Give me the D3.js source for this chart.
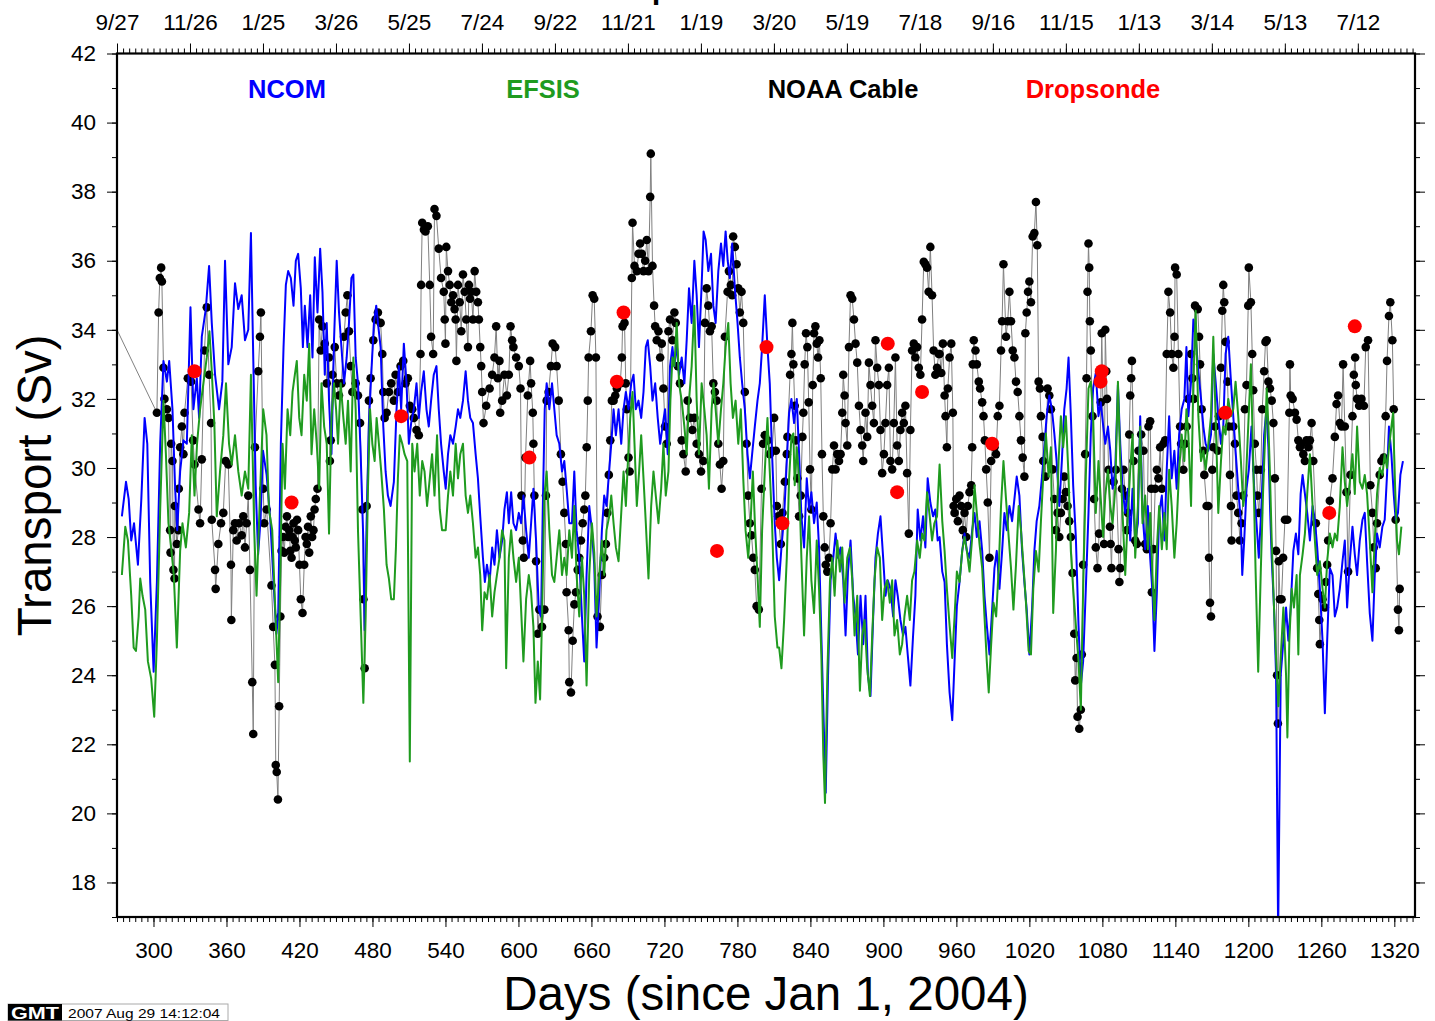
<!DOCTYPE html>
<html>
<head>
<meta charset="utf-8">
<script src="https://cdn.jsdelivr.net/npm/d3@7"></script>
<style>
  html, body { margin: 0; padding: 0; background: #fff; }
  svg { display: block; font-family: "Liberation Sans", Arial, Helvetica, sans-serif; }
</style>
</head>
<body>
<svg id="chart" width="1435" height="1021"></svg>
<script>
// Transport series, [day since 1 Jan 2004, transport in Sv]
const ncom = [
[274,28.6],[277.4,29.6],[279.6,29.1],[281.7,27.9],[284,28.4],[287.2,27.2],[290,29.1],[292.7,31.45],[294.9,30.7],[297.3,26.7],[300.1,24.1],[302.8,26.7],[305.5,30.7],[308.2,33.1],[311,32.5],[312.9,33.1],[315.6,31.7],[317.8,29.4],[319.5,28.2],[321.9,29.9],[324.6,30.8],[327.4,30.7],[330.4,34.65],[332.8,31.7],[335.6,32.6],[337.5,31.45],[339.7,33.8],[343,34.6],[345.7,35.85],[347.9,34.2],[350.6,32.7],[353.9,31.7],[356.6,32.5],[358.8,36],[361.5,33],[364.3,33.5],[367,35.35],[369.7,34.6],[372.5,35],[375.2,33.7],[377.9,34],[380.1,36.8],[382,33.2],[384,29.5],[386,27.5],[388,28.5],[390,30.5],[393,29.8],[396,28.5],[399,26.5],[401,25.2],[402.5,25.7],
[404.7,30.7],[406.9,33.5],[408.8,35.3],[410.7,35.7],[412.9,35.5],[415.1,34.7],[417,36],[418.9,36.2],[421.1,35.2],[422.8,33.5],[424.4,34.7],[426.6,33.5],[428.8,35],[430.7,33.2],[432.6,36.1],[434.8,34.5],[437,36.35],[438.9,35.1],[440.8,32.7],[442.4,34.2],[444.3,31.95],[446.3,30.4],[448.4,33.7],[450.6,36],[452.5,34.5],[454.5,33.5],[456.6,32.45],[458.8,33.2],[460.7,34.2],[462.7,35.5],[464.3,35.6],[466.2,33.2],[468.1,32.45],[470.3,30.4],[472.5,27.9],[473.6,25.3],[475.2,28.4],[477.1,31.3],[479,32.7],[481.2,34.2],[483.1,34.7],[484.8,34.1],[486.7,33.5],[488.9,31.2],[490.8,29.9],[492.7,29.2],[494.9,28.9],[497.6,29.6],[499.8,31.7],[501.7,32.95],[503.6,31.7],[505.8,33.6],[508,32.45],[509.9,30.7],[511.8,31.3],[514,31.7],[516.2,32.45],[518.1,31.45],[520,32.2],[522.2,32.8],[524.4,31.7],[526.3,31.2],[528.2,31.95],[530.4,32.7],[532.6,32.95],[534.5,31.7],[536.4,30.7],
[538.6,29.9],[540.2,29.4],[542.1,30.4],[544,30.95],[546.2,30.7],[548.4,31.2],[550.3,31.7],[552.2,31.45],[554.4,31.95],[556.6,32.8],[558.5,31.95],[560.4,31.45],[562.6,31.3],[564.8,30.4],[566.7,29.7],[568.6,28.6],[570.8,27.4],[572.4,26.7],[574.1,27.2],[576.3,26.7],[578.4,27.7],[580.3,27.2],[582.3,28.2],[584.4,27.4],[586.6,27.9],[588.5,28.8],[590.5,29.3],[592.1,28.4],[594,29.3],[595.9,28.4],[598.1,28.2],[600.3,28.7],[602.2,28.4],[604.1,29.2],[606.3,28.2],[608.5,27.4],[610.4,28.4],[612.3,29.4],[614.5,27.9],[616.7,25.9],[618.6,25.7],[620,28.8],[621.6,31.7],[623.2,32.45],[625.4,31.7],[627.6,32.45],[629.5,31.7],[631.4,30.95],[633.6,30.7],[635.8,29.9],[637.7,30.2],[639.6,29.4],[641.8,28.4],[644,28.4],[645.9,29.9],[647.8,28.2],[650,27.4],[652.2,25.7],[654.1,24.4],[656,26.9],[658.2,28.9],[660.4,28.2],[662.3,27.2],[664.2,24.8],[666.4,26.3],[668.6,28.2],[670.5,29.2],[672.4,28.9],
[674.1,29.7],[676.3,30.7],[678.2,31.7],[680.1,30.95],[682.3,31.7],[684.5,30.7],[686.4,31.7],[688.3,32.2],[690.5,31.7],[692.7,32.45],[694.6,32.7],[696.5,31.7],[698.7,31.95],[700.9,31.45],[702.8,32.2],[704.7,33.5],[706.3,33.7],[708.3,32.95],[710.2,31.95],[712.4,32.45],[714.5,31.45],[716.5,30.7],[718.4,31.2],[720.5,31.7],[722.7,30.4],[724.6,32.95],[726.6,33.5],[728.2,32.95],[730.1,33.6],[732,32.7],[734.2,33.2],[736.4,32.45],[738.3,33.7],[740.2,35.2],[742.4,34.2],[744.6,36],[746.5,35],[748.4,33.5],[750.6,35.3],[752.2,36.85],[753.9,36.6],[756.1,35.7],[758.3,36.2],[760.2,34.7],[762.1,34.2],[764.3,35.7],[766.5,36.5],[768.4,35.85],[770.3,36.85],[772,36],[773.8,35.5],[775.7,36.5],[777.9,35.2],[780.1,34.2],[782,33.2],[783.9,32.45],[786.1,31.7],[788.3,30.4],[790.2,29.7],[792.1,30.4],[794.3,31.2],[796.5,31.95],[798.4,32.45],[800.3,33.5],[802.5,35],[804.7,33.5],[806.6,32.45],[808.5,30.4],
[810.7,28.4],[812.4,27.4],[814.3,26.75],[816.2,27.7],[818.4,28.6],[820.6,30.2],[822.5,31.6],[824.4,32],[826.6,31.3],[828.8,32],[830.7,30.4],[832.6,28.6],[834.8,27.7],[837,29.7],[838.9,28.8],[840.8,29.3],[843,28.4],[845.2,29],[847.1,27.7],[849,25.15],[851.2,22.3],[852.6,20.6],[854.5,24],[856.6,26.75],[858.8,27.4],[860.7,28.1],[862.7,27.4],[864.8,27.7],[867,26.75],[868.9,25.15],[870.9,27],[873,27.9],[875.2,26.3],[877.1,25.7],[879.1,24.6],[881.2,26.3],[883.4,24.9],[885.3,26.3],[887.3,24],[889.4,23.4],[891.6,25.7],[893.5,27.4],[895.5,28.1],[897.6,28.6],[899.8,27.4],[901.7,26.3],[903.6,26.75],[905.8,26.5],[908,25.7],[909.9,26.75],[911.8,26.3],[914,25.6],[916.2,25.15],[918.1,25.4],[920,24.6],[922.2,23.7],[924.4,25.15],[926.3,26.3],[928.2,28.8],[930.4,27.9],[932.6,28.6],[934.5,27.7],[936.4,29.7],[938.6,29],[940.8,28.6],[942.7,28.8],[944.6,27.9],
[946.2,28],[948.4,27],[950.3,26.7],[952.2,24.9],[954.4,23.5],[956.6,22.7],[958.5,24.4],[960.4,26],[962.6,26.7],[964.8,27.6],[966.7,28.1],[968.6,27.6],[970.8,27.4],[973,28.2],[974.9,28.7],[976.8,28],[979,28.46],[981.2,27.6],[983.1,26.3],[985,25.45],[987.2,24.6],[989.4,25.9],[991.3,27.1],[993.2,27.6],[995.4,26.5],[997.6,27.6],[999.5,28.7],[1001.4,28.2],[1003.6,28.9],[1005.8,28.46],[1007.7,29.1],[1009.6,29.75],[1011.8,29.2],[1014,27.6],[1015.9,26.7],[1017.8,25.9],[1020,24.6],[1022.2,25.9],[1024.1,27.6],[1026,28.46],[1028.2,28.9],[1030.4,29.75],[1032.3,30.6],[1034.2,31.5],[1036.4,32.1],[1038.5,31.7],[1040.5,31],[1042.4,30.2],[1044.6,28.9],[1046.7,30.2],[1048.7,31.7],[1050.6,32.3],[1052.2,33.2],[1054.1,31.5],[1056,29.5],[1058.2,28],[1060.4,25.45],[1062.3,23.7],[1064.2,24.4],[1066.4,26.5],[1068.6,28.7],[1070.5,31],[1072.4,32.3],[1074.6,32.75],[1076.8,31.5],[1078.7,31.9],[1080.6,31.25],
[1082.4,30.7],[1084.6,31.2],[1086.5,30.5],[1088.4,29.4],[1090.6,29.95],[1092.8,32.4],[1094.7,30.7],[1096.6,29.4],[1098.8,28.7],[1101,29.4],[1102.9,27.9],[1104.8,29.4],[1107,27.9],[1109.2,28.4],[1111.1,31.5],[1113,28.7],[1115.2,27.65],[1117.4,28.9],[1119.3,27.4],[1121.2,26.4],[1122.8,24.7],[1124.8,26.4],[1126.7,28.7],[1128.9,29.2],[1131,27.9],[1132.9,29.95],[1134.9,31.5],[1137,29.7],[1139.2,30.5],[1141.1,29.4],[1143.1,30.97],[1145.2,31.7],[1147.4,32],[1149.1,33.5],[1150.7,31.5],[1152.9,32.5],[1154.8,34.3],[1156.7,33.8],[1158.9,32.8],[1161.1,32],[1163,31.2],[1164.9,30.7],[1167.1,30.5],[1169.3,30.97],[1171.2,33.3],[1173.1,32.5],[1175.3,31.5],[1177.5,30.7],[1179.4,31.2],[1181.3,33.3],[1183.5,33.8],[1185.7,32.5],[1187.6,31.5],[1189.5,30.5],[1191.7,29.4],[1193.9,28.4],[1195,26.9],[1196.6,27.9],[1198.5,29.4],[1200.4,29.95],[1202.6,31.2],[1204.8,29.4],[1206.7,28.4],[1208.6,27.4],[1210.8,28.9],[1213,30.97],[1214.9,31.7],
[1216.5,30.6],[1217.8,28.9],[1219.2,27.4],[1221.1,25.96],[1222.8,24],[1224.5,16.5],[1226.6,24],[1228.8,25],[1231,25.96],[1232.9,25],[1234.8,25.96],[1237,27.6],[1239.1,28.1],[1241.1,27.5],[1243,29.25],[1244.6,29.8],[1246.5,29.25],[1248.4,28.7],[1250.6,27.9],[1252.8,28.9],[1254.7,28.5],[1256.6,27.7],[1258.8,26.5],[1261,25],[1262.9,22.9],[1264.8,25],[1267,27.1],[1269.2,26.9],[1271.1,25.7],[1273,25.96],[1275.2,26.5],[1277.4,27.3],[1279.3,27.9],[1281.2,25.96],[1283.4,27.3],[1285.6,28.3],[1287.5,27.5],[1289.4,26.9],[1291.6,27.9],[1293.8,28.5],[1295.7,28.7],[1297.6,27.3],[1299.8,25.8],[1302,25],[1303.9,26.9],[1305.8,28.1],[1308,27.7],[1310.2,28.3],[1312.1,28.5],[1314,29.8],[1315.6,31.2],[1317.6,30.4],[1319.5,29.25],[1321.1,28.5],[1323,28.7],[1325,29.8],[1327.1,30.2]
];

const efsis = [
[274,26.9],[276.8,28.3],[279,27.9],[281.7,26.3],[283.7,24.8],[285.6,24.7],[287.8,25.7],[289.1,26.8],[291,26.3],[293.2,25.9],[295.4,24.4],[298.1,23.9],[300.6,22.8],[302.8,25],[305.5,28.8],[308.2,31.95],[310.2,30.4],[312.3,28.4],[314.5,27.7],[316.7,26.9],[319.2,24.8],[321.9,27.6],[323.8,28.4],[326.6,27.7],[329.3,28.7],[331.5,30.95],[333.7,29.2],[335.8,30.7],[338.3,31.7],[341,32.45],[343.8,33.2],[346,33.96],[347.9,32.8],[350,31.3],[352,28.6],[354.7,29.9],[357.4,30.95],[359.6,32.45],[362.1,30.7],[364.3,30.1],[367,30.95],[369.7,29.9],[372.5,29.2],[375.2,29.9],[377.9,29.4],[380.1,32.7],[382.8,28.2],[384.7,26.3],[387.5,29.2],[390.2,31.7],[392.9,30.95],[394.9,28.8],[397.6,28.2],[400.3,25.7],[402.5,23.8],
[404.2,26.9],[406.1,30.7],[408,29.4],[410.2,31.7],[412.4,30.95],[414.3,32.2],[416.2,32.7],[417.8,33.1],[419.8,31.45],[421.7,30.95],[423.9,32.7],[426,31.95],[428,33.6],[429.9,30.4],[432.1,31.7],[434.2,30.7],[436.2,29.4],[438.1,32.45],[440.3,31.2],[442.4,30.7],[444.3,28.1],[446.3,31.45],[448.4,32.45],[450.1,31.7],[451.7,30.7],[453.9,32.45],[456.1,31.45],[458,30.7],[459.9,31.95],[462.1,29.9],[464.3,33.2],[466.2,31.7],[468.1,28.2],[470.3,25.7],[472.5,23.2],[474.4,25.7],[476.3,29.4],[478,31.7],[479.9,30.7],[481.8,30.2],[483.4,31.45],[485.3,30.7],[487.2,29.9],[489.4,28.8],[491.6,27.2],[493.5,26.8],[495.4,26.2],[497.6,26.2],[499.3,27.7],[500.9,29.7],[502.5,30.95],[504.5,30.7],[506.4,30.4],[508.6,30.2],[510.7,21.5],[512.7,30.7],[514.6,29.9],[516.8,30.7],[518.9,29.2],[520.9,30.2],[522.8,29.9],[524.9,28.9],[527.1,29.7],[529,30.4],[531,29.2],[533.1,30.95],[535.3,28.8],[537.2,28.2],
[540.2,28.2],[542.1,29.2],[544,29.9],[546.2,29.2],[548.4,30.7],[550.3,29.7],[552.2,30.4],[554.4,30.7],[556.6,29.2],[558.5,28.7],[560.4,29.2],[562.6,28.4],[564.8,27.4],[566.7,27.7],[568.6,26.9],[570.2,25.3],[572.1,26.4],[574.1,26.2],[576.3,26.9],[578.4,25.7],[580.3,26.4],[582.3,26.9],[584.4,27.4],[586.6,28.2],[588.5,27.9],[589.9,24.2],[592.1,27.4],[594,28.2],[595.9,27.4],[598.1,26.7],[600.3,27.4],[602.2,25.9],[604.1,24.4],[606.3,26.2],[608.5,26.9],[610.4,26.4],[612.3,25.4],[614,23.2],[615.9,24.4],[617.8,23.3],[619.4,25.7],[621.3,29.2],[623.2,29.9],[625.4,28.2],[627.6,26.9],[629.5,26.7],[631.4,27.4],[633.6,28.2],[635.8,26.9],[637.7,27.4],[639.6,26.9],[641.8,28.2],[644,27.4],[645.9,28.9],[647.8,26.9],[650,25.7],[652.2,27.4],[654.1,26.3],[656,23.7],[658.2,26.9],[660.4,28.4],[662.3,27.55],[664.2,25.7],[666.4,26.9],[668.6,27.9],[670.5,26.9],[672.4,28.2],
[674.6,28.6],[676.3,29.2],[678.2,28.4],[680.1,27.7],[682.3,27.3],[684.5,28.7],[686.4,29.9],[688.3,28.9],[690,30.2],[691.9,31.45],[693.8,32.2],[695.4,30.7],[697.3,28.9],[699.2,29.9],[700.9,30.95],[702.8,29.7],[704.7,28.4],[706.9,26.8],[709.1,28.9],[711,29.9],[712.9,29.2],[715.1,28.4],[717.3,29.4],[719.2,30.7],[721.1,29.2],[723.3,29.9],[724.9,31.95],[726.6,33.2],[728.2,32.95],[730.1,34.2],[732,32.45],[734.2,31.95],[736.4,31.2],[738.3,30.4],[740.2,31.95],[742.4,32.95],[744.6,34.7],[746.5,31.95],[748.4,30.4],[750.6,32.45],[752.8,31.7],[754.7,30.95],[756.6,29.4],[758.8,31.7],[760.4,32.45],[762.1,31.7],[764.3,30.7],[766.5,31.7],[768.4,32.45],[770.3,33.5],[772.5,34.2],[774.4,32.45],[776.3,31.45],[778.5,31.95],[780.7,30.7],[782.8,31.7],[784.8,29.7],[786.7,28.2],[788.9,27.4],[790.8,28.4],[792.7,29.9],[794.6,28.2],[796.5,26.9],[798.4,25.4],[800.3,28.2],[802.5,29.9],[804.7,31.45],[806.6,29.9],[808.5,28.4],
[810.7,25.7],[812.9,24.8],[814.3,24.8],[816.2,24.2],[818.4,25.6],[820.6,27.4],[822.5,29.7],[824.4,30.9],[826,31],[827.1,29.5],[828.8,30.6],[830.7,29.7],[832.6,27.4],[834.8,25.15],[837,27.4],[838.9,28.6],[840.8,26.75],[843,25.8],[845.2,27.9],[847.1,26.5],[849,24.6],[850.6,21.7],[852,20.3],[853.9,24],[856.1,26.75],[858,27.4],[859.9,26.3],[862.1,27.9],[864.3,27],[866.2,27.7],[868.1,26.1],[870.3,27.4],[872.5,27.7],[874.4,26.75],[876.3,25.15],[878.5,26.3],[880.7,23.55],[882.6,25.15],[884.5,25.6],[886.7,24.2],[888.9,23.4],[890.8,25.15],[892.7,26.75],[894.9,27.7],[897.1,27.4],[899,25.6],[900.9,26.5],[903.1,26.75],[905.3,26.1],[907.2,26.75],[909.1,25.15],[911.3,25.6],[913.5,24.6],[915.4,24.9],[917.3,25.7],[919.5,26.3],[921.7,25.6],[923.6,26.75],[925.5,27],[927.7,27.9],[929.9,27.4],[931.8,28.1],[933.7,27.9],[935.9,29.3],[938.1,28.6],[940,27.9],[941.9,28.4],[944.1,28.6],
[946.2,30.1],[948.4,28.46],[950.3,27.6],[952.2,26.5],[954.4,25.45],[956.6,24.5],[958.5,25.7],[960.4,27],[962.6,26.7],[964.8,27.6],[966.7,28],[968.6,27.6],[970.8,27],[973,28],[974.9,29.5],[976.8,28.7],[979,27.8],[981.2,27.1],[983.1,25.7],[985,24.4],[986.6,23.5],[988.6,24.9],[990.5,26.1],[992.7,25.7],[994.8,27.1],[996.7,28.9],[998.7,30.2],[1000.8,29.1],[1003,28],[1004.9,27.1],[1006.9,25.9],[1009,27.2],[1011.2,28.9],[1013.1,28.2],[1015.1,27.2],[1017.2,26.1],[1019.4,24.7],[1021.3,24.6],[1023.2,26.5],[1025.4,27.6],[1027.6,27],[1029.5,28.46],[1031.4,29.75],[1033.6,31],[1035.8,29.75],[1037.7,30.6],[1039.6,25.8],[1041.8,27.6],[1044,30.2],[1045.9,31.5],[1047.8,30.6],[1050,31.5],[1052.2,29.75],[1054.1,27.6],[1056,26.5],[1058.2,25.45],[1060.4,24.4],[1062.3,23],[1064.2,26.5],[1066.4,29.75],[1068.6,32.3],[1070.5,32.5],[1072.4,31.5],[1074.6,28.7],[1076.8,30.2],[1078.7,29.1],[1080.6,28],
[1082.4,29.2],[1084.6,29.95],[1086.5,28.9],[1088.4,28.4],[1090.6,29.4],[1092.8,32.5],[1094.7,30.2],[1096.6,28.7],[1098.8,26.9],[1101,28.7],[1102.9,29.95],[1104.8,30.97],[1107,27.4],[1109.2,28.9],[1111.1,31.2],[1113,28.4],[1115.2,29.2],[1117.4,27.65],[1119.3,28.7],[1121.2,26.9],[1122.8,25.6],[1124.8,27.65],[1126.7,28.9],[1128.9,27.65],[1131,28.7],[1132.9,27.65],[1134.9,29.95],[1137,28.9],[1139.2,27.4],[1141.1,28.4],[1143.1,29.95],[1145.2,30.97],[1147.4,30.2],[1149.1,31.7],[1150.7,30.97],[1152.9,28.9],[1154.8,32.5],[1156.7,34.55],[1158.9,31.5],[1161.1,30.2],[1163,30.5],[1164.9,29.95],[1167.1,30.7],[1169.3,31.5],[1171.2,33.8],[1173.1,31.5],[1175.3,28.7],[1177.5,30.2],[1179.4,31.2],[1181.3,30.97],[1183.5,32],[1185.7,31.5],[1187.6,31.7],[1189.5,32.5],[1191.7,31.5],[1193.9,30.2],[1195.8,28.9],[1197.7,29.4],[1199.9,31.2],[1202.1,33],[1204,30.2],[1205.9,27.1],[1208.1,24.1],[1210.3,27.1],[1212.2,29.4],[1214.1,31.2],
[1215.1,32.3],[1216.5,31.2],[1217.8,29.8],[1219.2,27.9],[1221.1,25.96],[1222.8,24.5],[1224.7,23.1],[1226.6,24.5],[1228.8,25.96],[1231,24],[1232.1,22.2],[1233.7,25],[1235.6,26.5],[1237.5,25.96],[1239.7,26.9],[1241.1,24.6],[1242.4,26.9],[1244.6,27.5],[1246.5,28.1],[1248.4,29.25],[1250.6,30.4],[1252.8,28.9],[1254.7,27.9],[1256.6,26.9],[1258.8,27.3],[1261,26.5],[1262.9,25.96],[1264.8,27.3],[1267,28.1],[1269.2,27.7],[1271.1,28.1],[1273,27.9],[1275.2,28.9],[1277.4,30.6],[1279.3,29.6],[1281.2,28.9],[1283.4,29.6],[1285.6,30.4],[1287.5,29.25],[1289.4,31.2],[1291.6,29.6],[1293.8,29.4],[1295.7,29.8],[1297.6,29.25],[1299.8,27.9],[1302,26.4],[1303.9,27.9],[1305.8,29.25],[1308,30],[1310.2,29.8],[1312.1,30.4],[1314,30],[1315.6,30.6],[1317.6,31.2],[1319,31.6],[1320.3,29.8],[1322.2,27.9],[1323.8,27.5],[1325.8,28.3]
];

const cable = [
[255,35.1],
[302.8,31.6],[304.2,34.5],[305.2,35.5],[306.3,35.8],[306.9,35.4],[308.2,32.9],[309,32],[311,31.7],[312.3,31.45],[313.7,28.2],[314,27.55],[314.5,30.7],[315.6,30.2],[316.4,27.05],[317.3,26.8],[317.5,28.9],[319.2,27.8],[320.5,28.2],[320.8,29.4],[321.9,30.6],[323.3,31.2],[324.6,30.4],[325.5,31.6],[328.2,32.6],[330.9,32.5],[332.6,30.8],[333.7,30.1],[337,28.8],[338.3,28.4],[339.7,30.25],[341.9,33.4],[343.8,34.65],[345.7,32.7],[347.3,31.3],[347.9,28.5],[350.6,27.05],[351.1,26.5],[353.3,27.8],[355.5,28.4],[357.4,28.7],[359.3,30.2],[361.5,30.1],[363.7,27.2],[364,25.6],[365.6,28.2],[367,28.4],[368.4,27.9],[370.3,28.4],[372.5,28.05],[373.8,28.6],[375.2,27.7],[376.6,28.4],[377.9,29.2],[379.3,27.05],[381.2,23.8],[382,22.3],[383.4,30.6],[386.1,32.8],[387.5,33.8],[388.3,34.5],[390.2,29.4],[391,28.4],[393,28.8],[397,26.6],[398.4,25.4],[399.8,24.3],[400.5,21.4],[401.3,21.2],[402.3,20.4],[403.3,23.1],[404.3,25.7],[405.3,27.6],[406.5,28],
[407.5,27.55],[408.6,28.3],[409.7,28.6],[410.6,28],[411.6,28.2],[412.5,27.6],[413.5,27.4],[414.3,28],[415.1,28.4],[416.1,27.9],[417,27.7],[418,28.5],[418.9,28.2],[420,27.2],[421.1,26.2],[422.5,25.8],[423.9,27.2],[425,28],[426,27.8],[427,28.3],[428,27.55],[429.3,28.6],[430.4,28],[431.5,28.2],[432.4,28.8],[433.4,29.1],[434.8,29.4],[436.2,34.3],[437.5,33.4],[438.9,34.1],[440.8,33.6],[442.4,32.45],[444.3,33.2],[445,30.2],[445.7,30.8],[447.1,32.7],[449,33.5],[450.6,32.45],[452.5,32.1],[454.5,32.45],[456.6,33.8],[458,34.5],[459.4,35],[460.7,33.96],[462.1,32.95],[463.5,32.2],[466.2,32.45],[468.1,32.1],[469.8,31.3],[471.7,28.8],[472.6,26.2],[473.6,24.2],[475.2,28.9],[477.1,31.95],[478.5,32.6],[480.7,33.7],[482.6,34.3],[484.5,34.5],[486.7,34.2],[488.1,33.3],[488.9,32.2],[490,31.45],[491.6,31.6],[493.5,32.2],[495.4,32.45],[497.6,31.95],[499,32.7],[500.9,32.2],[503.1,32.95],[505.3,33.1],[507.2,32.45],[509.1,32.6],[510.7,31.8],[512.7,31.7],[514,31.45],[516.2,31.1],[518.1,30.95],[519.5,33.3],[520,35.3],[520.9,37.1],[522.3,36.9],[523.6,36.85],[525.5,37],[527.1,35.3],[528.2,33.8],[529.9,33.3],[531,37.5],[532.6,37.3],[534.5,36.35],[536.4,35.5],[538.6,35.1],
[539.4,34.3],[540,33.6],[540.7,36.4],[542.1,35.7],[543.5,35.3],[544.8,34.8],[546.2,35],[547.5,34.6],[548.4,34.3],[549,33.1],[550.3,35.3],[551.7,34.8],[553,33.96],[554.4,35.6],[555.8,35.1],[557.1,34.3],[558.5,33.5],[559.3,35.3],[560.2,34.9],[561.2,35.1],[562.6,34.3],[564,35.7],[565.3,35.1],[566.7,34.8],[567.5,34.3],[568.6,33.5],[569.4,32.95],[570.2,32.2],[571.3,31.3],[573.5,31.8],[576.3,32.3],[578.4,32.7],[580.3,33.2],[581.7,34.1],[583.1,32.6],[584.4,33.1],[585,31.6],[586.6,31.95],[588.5,32.7],[590.5,32.1],[592.1,32.7],[593.5,34.1],[594.8,33.7],[595.9,33.5],[598.1,33.2],[600.3,32.95],[601.7,32.3],[602.5,29.2],[603.6,27.9],[604.4,27.4],[605.8,30.3],[607.7,32.1],[609.6,33.1],[610.4,32.45],[611.8,31.6],[612.3,30.7],[613.1,29.2],[614.5,27.3],[615.9,25.2],[617.2,25.9],[619.4,25.4],[621.3,25.9],[622.6,29.2],[623.2,31.95],[624.8,32.2],[626.7,32.95],[628.1,33.6],[630.2,33.5],[631.4,32.95],[633.1,31.95],[634.9,30.4],[636.3,29.6],[637.7,28.7],[639,27.8],[639.6,26.4],[641.3,25.3],[641.8,23.8],[643.2,23.5],[644.6,25],[646,26.05],[647.3,26.4],[648.7,27.05],[650,27.4],[651.4,27.9],[652.8,28.4],[654.1,28.8],[655,29.2],[656.1,30.6],[657,31.95],[657.7,33.2],[659.6,33.96],[661,35],[662.3,34.9],[663.7,33.2],[665,25.7],[667,25.4],[668.6,26.9],[670.5,27.4],[671.9,27.8],[673,28.7],[674.3,29.8],[675.5,30.8],[676.8,31.95],
[678.2,31.95],[679.6,32.1],[680.9,32.3],[683.7,32.45],[685,33.2],[685.6,34.1],[687.2,34.2],[688.2,32.45],[689.1,31.7],[690.5,30.3],[691.4,29.9],[693.2,35.5],[693.8,37.1],[695.4,35.85],[697.3,35.7],[698.7,36.2],[700,36.5],[701.4,36.2],[702.8,35.7],[704.2,36],[705.5,36.6],[706.9,35.7],[708.3,37.85],[708.8,39.1],[710.2,35.85],[711.5,34.7],[712.4,34.1],[713.7,33.7],[715.1,33.96],[716.5,33.2],[717.8,33.6],[719.2,32.3],[720.5,31.2],[721.9,30.7],[723.3,33.96],[724.6,34.3],[726.6,33.7],[728.2,34.5],[729.3,34.2],[731,32.95],[732.8,32.45],[734.2,30.8],[735.6,30.4],[737.5,29.9],[739.1,31.95],[741,31.45],[743,31.1],[744.6,31.45],[746.5,30.7],[748.4,30.4],[750.1,29.9],[752,30.2],[753.3,34.2],[754.7,35.2],[756.1,34.7],[757.4,33.96],[758.8,34.1],[760.2,32.45],[761.5,32.2],[762.9,31.95],[764.3,30.7],[765.6,30.1],[767,29.4],[768.4,30.2],[769.7,33.8],[771.9,35.1],[773,35.7],[774.6,35.3],[775.7,35],[776.5,36.7],[777.9,36.4],[779.3,35.9],[780.7,35.2],[782,34.5],[783.4,35.1],[784.8,34.2],[786.1,32.2],[787.5,30.7],[788.9,29.2],[790.2,28.4],[791.6,28.05],[793,27.4],[794.3,27.05],[795.8,26],[797.6,25.9],[799.8,29.4],[801.1,30.7],[802.5,30.95],[804.7,30.8],[806.6,30.4],[808.5,30.5],
[810.2,31.45],[811.6,30.5],[812.4,28.9],[813.5,28.6],[815.7,27.8],[817,28.7],[819,29.6],[820.6,30.4],[821.1,30.9],[823.3,32.7],[824.4,33.3],[825.2,34.2],[826,33],[827.1,31.8],[828,30.8],[829.3,29.7],[830.7,28.6],[832,29.2],[833.4,30.9],[834.2,31.6],[835.3,33],[836.4,33.9],[837.5,33.5],[838.6,31.9],[839.7,29.96],[840.8,28.8],[841.9,32.4],[843,33.9],[844.1,34.1],[845.2,33.6],[846.3,33.2],[847.4,33.7],[848.5,32.6],[849.5,30.4],[850.6,28.6],[851.7,27.7],[852.6,27.2],[853.9,27],[855.3,27.4],[856.6,28.4],[858,29.96],[859.4,30.65],[860.7,29.96],[862.1,30.4],[863.5,30.2],[864.8,30.4],[866.2,31.6],[867,32.7],[868.1,32.1],[868.9,31.3],[870.3,30.65],[871.7,33.5],[873,35],[874.4,34.9],[875.8,34.3],[877.1,33.6],[878.5,33.05],[879.9,31.8],[881.2,31.1],[882.6,30.65],[883.4,30.2],[885.3,31.6],[886.7,30.9],[888.1,33.05],[889.4,32.4],[890.8,31.8],[892.2,31.3],[893.5,33.7],[894.9,32.9],[896.3,32.4],[897.6,31.1],[899,29.85],[900.4,30.4],[901.7,31.3],[903.1,32.4],[904.5,32.9],[905.8,30.2],[907.2,29.96],[908.6,31.3],[909.9,33.2],[911.3,30.65],[912.7,30.2],[914,31.1],[915.4,31.6],[916.8,31.3],[918.1,31.8],[919.5,29.85],[920.9,28.1],[922.2,31.1],[923.6,33.4],[925,33.6],[926.3,33.2],[927.7,33.5],[929.1,32.9],[930.4,32.7],[931.8,34.3],[933.2,35.97],[934.5,35.9],[935.9,35.8],[937.2,35.1],[938.6,36.4],[940,35],[941.3,33.4],[942.7,32.7],[944.1,32.9],[945.5,33.3],
[946.2,33.3],[947.6,32.75],[948.9,33.6],[950.3,32.1],[951.1,31.5],[952.2,30.6],[953,32.3],[954.4,33.2],[955.8,33.6],[957.1,31.6],[957.7,28.9],[958.5,28.7],[959.9,29.1],[961.2,28.46],[962.6,29.2],[964,28.9],[965.3,28.2],[966.7,28.7],[968.1,28],[969.4,28.9],[970.8,29.3],[972.2,29.5],[973,30.6],[973.5,33],[974.3,33.7],[975.7,33.4],[976.8,33],[978.4,32.5],[979.5,32.3],[981.2,31.9],[982.3,31.5],[983.4,30.8],[984.5,29.96],[985.8,29],[987.2,27.4],[988.6,30.2],[989.9,30.7],[991.3,30.6],[992.6,30.4],[994,31.5],[995.4,31.8],[996.7,33.4],[997.6,34.25],[998.7,35.9],[1000.8,33.8],[1002.2,34.25],[1003.6,35.1],[1004.9,34.25],[1006.3,33.4],[1007.7,33.2],[1009,32.5],[1010.4,32.2],[1011.8,31.5],[1013.1,30.8],[1014.5,30.3],[1015.9,29.75],[1016.7,33.9],[1017.8,34.5],[1018.9,35.1],[1020,35.4],[1021.3,34.8],[1022.7,36.7],[1024.1,36.8],[1025.4,37.7],[1026.5,36.45],[1027.6,32.5],[1028.7,32.3],[1029.5,31.5],[1030.9,30.9],[1031.4,30.2],[1033.1,29.75],[1035,32.3],[1036.4,32.1],[1037.7,31.7],[1039.1,29.96],[1040.5,29.1],[1041.8,28.2],[1043.2,28.7],[1044.6,28],[1045.9,28.7],[1047.3,29.1],[1048.7,29.75],[1050,29.3],[1051.4,28.9],[1052.8,28.46],[1054.1,28],[1055.5,26.96],[1056.9,25.2],[1057.7,23.85],[1058.8,24.5],[1059.6,22.8],[1061,22.45],[1062.3,23],[1063.1,24.6],[1064.2,27.2],[1065.9,30.4],[1067,32.6],[1067.8,35.1],[1068.6,36.5],[1069.2,35.8],[1069.7,34.25],[1070.5,33.4],[1071.9,31.5],[1073.2,29.1],[1074.6,27.7],[1076,27.1],[1077.3,28.1],[1078.7,31.9],[1079.5,33.9],[1080.1,32.85],[1081.4,27.8],
[1082.4,34],[1083.2,32.8],[1083.8,32],[1085.1,29.95],[1086.2,28.3],[1086.8,27.8],[1087.5,27.1],[1089.2,29.6],[1091.1,29.95],[1093.3,27.65],[1094,26.7],[1094.7,27.1],[1096.1,29.4],[1097.4,29.95],[1098.8,29.2],[1100.2,28.2],[1101,28.7],[1102.1,30.97],[1102.9,32.1],[1103.7,32.6],[1104.3,33.1],[1105.6,30.2],[1107,27.9],[1108.4,27.8],[1109.7,30.5],[1111.9,30.97],[1113.8,30.5],[1115.2,27.8],[1116.6,27.65],[1117.9,31.2],[1119.3,31.35],[1120.2,29.4],[1120.7,26.4],[1122,27.65],[1123.4,29.4],[1124.8,29.95],[1126.1,29.7],[1127.5,30.6],[1128.9,29.4],[1130.2,30.7],[1131.6,30.8],[1132.9,33.3],[1134.3,35.1],[1135.7,34.5],[1137,33.3],[1138.4,32.9],[1139.3,33.8],[1139.8,35.8],[1141.1,35.6],[1142.5,33.3],[1143.9,31.2],[1144.7,30.7],[1146.6,29.95],[1148,30.7],[1149.3,31.2],[1150.7,32],[1152.9,33.3],[1154,32.6],[1155.1,32],[1156.2,34.7],[1158.4,34.6],[1159.5,33.8],[1160.3,33],[1161.6,31.7],[1163,30.5],[1163.8,29.8],[1165.7,28.9],[1167.1,28.9],[1167.7,27.4],[1168.5,26.1],[1169.3,25.7],[1170.4,29.95],[1171.2,30.6],[1172.6,31.2],[1174.8,30.5],[1175.8,31.5],[1177.5,32.9],[1178.6,34.55],[1179.4,35.3],[1180.2,34.8],[1181.3,33.65],[1182.9,32.5],[1184,31.2],[1184.9,29.8],[1185.7,28.9],[1186.2,27.9],[1187.6,31.2],[1189,30.7],[1190.3,29.2],[1191.7,28.7],[1193.1,27.9],[1194.4,28.4],[1195.8,29.2],[1197.2,31.7],[1198.5,32.4],[1199.9,34.7],[1200.4,35.8],[1202.1,34.8],[1203.2,33.3],[1204,32.25],[1205.3,30.7],[1206.7,29.95],[1207.5,29.2],[1208.6,28.7],[1210.3,29.95],[1211.4,31.7],[1213,32.8],[1214.1,33.65],[1215.1,33.7],[1216.5,32.5],[1217.8,32.3],[1219.2,31.95],[1220.6,31.3],[1221.8,29.7],[1222.8,27.6],[1223.6,24],[1224.3,22.6],[1225,27.3],[1226,26.2],[1227.3,26.2],[1228.6,27.4],[1230.1,28.5],[1232,28.5],[1233.7,31.6],[1234.2,33],[1234.8,32.1],[1236.4,32],[1238.3,31.6],[1239.7,31.4],[1241.1,30.8],[1242.4,30.6],[1243.8,30.7],[1245.2,30.4],[1246.5,30.2],[1247.9,30.8],[1249.3,30.6],[1250.6,30.8],[1252,31.3],[1253.4,30.2],[1255.5,28.4],[1256.6,27.1],[1257.5,26.35],[1258.3,25.6],[1258.8,24.9],[1261,26.2],[1262.9,25.96],[1263.7,26.7],[1264.8,27.2],[1265.6,27.9],[1267,29.05],[1269.2,29.7],[1271.1,30.9],[1272.5,31.85],[1273.8,32.1],[1275.2,31.3],[1276.6,31.2],[1277.9,33],[1279.3,31.2],[1280.7,29.3],[1282,27],[1284,29.8],[1285.6,31.5],[1286.7,32.7],[1287.8,33.2],[1288.3,32.4],[1289.4,32],[1291.1,31.8],[1293,32],[1295,31.8],[1296.5,33.5],[1298.4,33.7],[1300.3,29.5],[1302,28.7],[1303.1,27.7],[1304.7,27.1],[1305.8,28.4],[1308,29.8],[1309.4,30.2],[1311.3,30.3],[1312.9,31.5],[1314,33.1],[1315.6,34.4],[1316.7,34.8],[1318.4,33.7],[1319.5,31.7],[1321.1,28.5],[1323,25.9],[1323.8,25.3],[1324.4,26.5]
];

const dropsonde = [
[333.7,32.8],[413.5,29.0],[503.6,31.5],[609,30.3],[680.9,32.5],[686.4,34.5],[763.2,27.6],[803.9,33.5],[817,28.4],[903.6,33.6],[911.3,29.3],[931.8,32.2],[989.4,30.7],[1078.5,32.5],[1079.5,32.8],[1181,31.6],[1266.5,28.7],[1287.5,34.1]
];

// axis ranges and tick labels
const dayRange = [270, 1337];
const svRange = [17, 42];
const dayTicks = d3.range(300, 1321, 60);
const dateTickDays = d3.range(270, 1291, 60);
const dateLabels = ["9/27","11/26","1/25","3/26","5/25","7/24","9/22","11/21","1/19","3/20","5/19","7/18","9/16","11/15","1/13","3/14","5/13","7/12"];
const svTicks = d3.range(18, 43, 2);
const seriesNames = ["NCOM", "EFSIS", "NOAA Cable", "Dropsonde"];
const seriesColors = ["#0000ff", "#1f9b1f", "#000000", "#ff0000"];
const xTitle = "Days (since Jan 1, 2004)";
const yTitle = "Transport (Sv)";
const plotTitle = "Transport Estimates";
const stamp = "2007 Aug 29 14:12:04";

const svg = d3.select("#chart");
const L = 117, R = 1415, T = 53.5, B = 917;
const x = d3.scaleLinear().domain(dayRange).range([L, R]);
const y = d3.scaleLinear().domain(svRange).range([B, T]);
const FONT = '"Liberation Sans", Arial, Helvetica, sans-serif';

svg.append("rect").attr("width", 1435).attr("height", 1021).attr("fill", "#fff");

// title line sits above the top edge of the page
svg.append("text").attr("x", 531).attr("y", -5)
  .attr("font-size", 47.5).attr("fill", "#000").text(plotTitle);

svg.append("clipPath").attr("id", "plotClip")
  .append("rect").attr("x", L).attr("y", T).attr("width", R - L).attr("height", B - T);

const plot = svg.append("g").attr("clip-path", "url(#plotClip)");
const line = d3.line().x(d => x(d[0])).y(d => y(d[1]));

// NOAA cable: thin connecting line and daily dots
plot.append("path").datum(cable).attr("d", line)
  .attr("fill", "none").attr("stroke", "#808080").attr("stroke-width", 1);
plot.append("g").selectAll("circle").data(cable).join("circle")
  .attr("cx", d => x(d[0])).attr("cy", d => y(d[1])).attr("r", 4.3)
  .attr("fill", seriesColors[2]);

// model series
plot.append("path").datum(ncom).attr("d", line)
  .attr("fill", "none").attr("stroke", seriesColors[0]).attr("stroke-width", 2)
  .attr("stroke-linejoin", "round");
plot.append("path").datum(efsis).attr("d", line)
  .attr("fill", "none").attr("stroke", seriesColors[1]).attr("stroke-width", 2)
  .attr("stroke-linejoin", "round");

// dropsonde sections
plot.append("g").selectAll("circle").data(dropsonde).join("circle")
  .attr("cx", d => x(d[0])).attr("cy", d => y(d[1])).attr("r", 7)
  .attr("fill", seriesColors[3]);

// axes
function styleAxis(g) {
  g.select(".domain").remove();
  g.selectAll("line").attr("stroke", "#000").attr("stroke-width", 1);
  g.selectAll("text").attr("font-family", FONT).attr("font-size", 22.5).attr("fill", "#000");
  g.attr("font-family", null).attr("font-size", null);
}
const minorDays = d3.range(270, 1338, 5);
const svMinor = d3.range(17, 42.01, 1);

svg.append("g").attr("transform", `translate(0,${B})`)
  .call(d3.axisBottom(x).tickValues(minorDays).tickSize(5).tickFormat("")).call(styleAxis);
svg.append("g").attr("transform", `translate(0,${B})`)
  .call(d3.axisBottom(x).tickValues(dayTicks).tickSize(10).tickPadding(15).tickFormat(d3.format("d"))).call(styleAxis);

svg.append("g").attr("transform", `translate(0,${T})`)
  .call(d3.axisTop(x).tickValues(minorDays).tickSize(5).tickFormat("")).call(styleAxis);
svg.append("g").attr("transform", `translate(0,${T})`)
  .call(d3.axisTop(x).tickValues(dateTickDays).tickSize(10).tickPadding(14)
    .tickFormat((d, i) => dateLabels[i])).call(styleAxis);

svg.append("g").attr("transform", `translate(${L},0)`)
  .call(d3.axisLeft(y).tickValues(svMinor).tickSize(5).tickFormat("")).call(styleAxis);
svg.append("g").attr("transform", `translate(${L},0)`)
  .call(d3.axisLeft(y).tickValues(svTicks).tickSize(10).tickPadding(11).tickFormat(d3.format("d"))).call(styleAxis);

svg.append("g").attr("transform", `translate(${R},0)`)
  .call(d3.axisRight(y).tickValues(svMinor).tickSize(5).tickFormat("")).call(styleAxis);
svg.append("g").attr("transform", `translate(${R},0)`)
  .call(d3.axisRight(y).tickValues(svTicks).tickSize(10).tickFormat("")).call(styleAxis);

// frame
svg.append("rect").attr("x", L).attr("y", T).attr("width", R - L).attr("height", B - T)
  .attr("fill", "none").attr("stroke", "#000").attr("stroke-width", 2.2);

// axis titles
svg.append("text").attr("x", (L + R) / 2).attr("y", 1010).attr("text-anchor", "middle")
  .attr("font-size", 47.5).attr("fill", "#000").text(xTitle);
svg.append("text").attr("transform", `translate(51,${(T + B) / 2}) rotate(-90)`)
  .attr("text-anchor", "middle").attr("font-size", 47.5).attr("fill", "#000").text(yTitle);

// legend labels
const legendX = [287, 543, 843, 1093];
svg.append("g").selectAll("text").data(seriesNames).join("text")
  .attr("x", (d, i) => legendX[i]).attr("y", 98).attr("text-anchor", "middle")
  .attr("font-size", 25.5).attr("font-weight", "bold")
  .attr("fill", (d, i) => seriesColors[i]).text(d => d);

// plot time stamp
const st = svg.append("g").attr("transform", "translate(8,1004)");
st.append("rect").attr("x", 0).attr("y", 0).attr("width", 220).attr("height", 16.5)
  .attr("fill", "#fff").attr("stroke", "#aaa").attr("stroke-width", 1);
st.append("rect").attr("x", 0).attr("y", 0).attr("width", 54).attr("height", 16.5).attr("fill", "#000");
st.append("text").attr("x", 27).attr("y", 14.5).attr("text-anchor", "middle")
  .attr("font-size", 17).attr("font-weight", "bold").attr("fill", "#fff")
  .attr("textLength", 48).attr("lengthAdjust", "spacingAndGlyphs").text("GMT");
st.append("text").attr("x", 60).attr("y", 13.5).attr("font-size", 12).attr("fill", "#000")
  .attr("textLength", 152).attr("lengthAdjust", "spacingAndGlyphs").text(stamp);
</script>
</body>
</html>
